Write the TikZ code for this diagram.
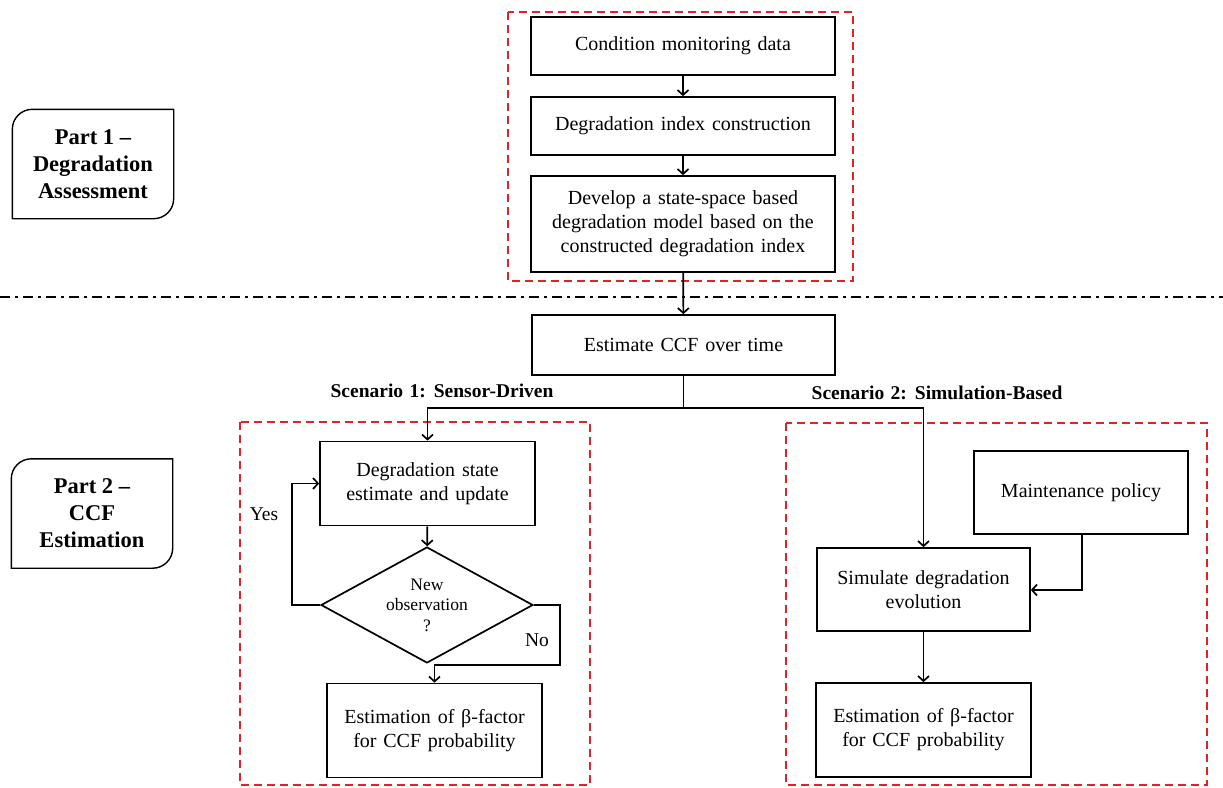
\documentclass[tikz,border=0pt]{standalone}
\usepackage{fontspec}
\setmainfont{Liberation Serif}
\usetikzlibrary{arrows.meta,shapes.geometric}
\definecolor{framered}{RGB}{226,34,38}
\newcommand\stepfont{\fontsize{20}{24}\selectfont\spaceskip=0.34em plus 0.1em\relax}
\newcommand\scenfont{\fontsize{19.5}{23}\selectfont\bfseries\spaceskip=0.33em\relax}
\begin{document}
\begin{tikzpicture}[x=1pt,y=-1pt,
  box/.style={draw, line width=1.7pt, align=center, inner sep=2pt, font=\stepfont},
  decision/.style={draw, diamond, aspect=1.83, line width=1.7pt, align=center,
    inner sep=0pt, minimum width=212pt, minimum height=116pt,
    font=\fontsize{17.5}{20.5}\selectfont},
  partlabel/.style={align=center, inner sep=0pt, minimum width=161pt, minimum height=109pt,
    font=\fontsize{22.5}{27}\selectfont\bfseries},
  partline/.style={line width=1.4pt},
  scen/.style={font=\scenfont, inner sep=0pt},
  lbl/.style={font=\fontsize{19.5}{22}\selectfont, inner sep=0pt},
  arr/.style={line width=1.7pt, -{Straight Barb[length=5pt,width=11pt]}},
  link/.style={line width=1.7pt},
  group/.style={draw=framered, line width=2pt, dash pattern=on 8pt off 5pt},
  divider/.style={line width=1.6pt, dash pattern=on 10pt off 5pt on 3pt off 5pt}
]
\useasboundingbox (0,0) rectangle (1223,787);

% phase separator
\draw[divider] (0,297) -- (1223,297);

% dashed groups
\draw[group] (508,12) rectangle (853,281);
\draw[group] (240,422) rectangle (590,785);
\draw[group] (786,423) rectangle (1207,785);

% part labels with two rounded corners
\node[partlabel] (p1) at (93,164) {Part 1 --\\Degradation\\Assessment};
\draw[partline] (p1.north east) -- ([xshift=20pt]p1.north west)
  arc[start angle=90,end angle=180,radius=20pt] -- (p1.south west)
  -- ([xshift=-20pt]p1.south east)
  arc[start angle=270,end angle=360,radius=20pt] -- cycle;
\node[partlabel] (p2) at (92,513.5) {Part 2 --\\CCF\\Estimation};
\draw[partline] (p2.north east) -- ([xshift=20pt]p2.north west)
  arc[start angle=90,end angle=180,radius=20pt] -- (p2.south west)
  -- ([xshift=-20pt]p2.south east)
  arc[start angle=270,end angle=360,radius=20pt] -- cycle;

% part 1 chain
\node[box, minimum width=304pt, minimum height=58pt] (cmd) at (683,46) {Condition monitoring data};
\node[box, minimum width=304pt, minimum height=58pt] (dic) at (683,126) {Degradation index construction};
\node[box, minimum width=304pt, minimum height=96pt] (ssm) at (683,224)
  {Develop a state-space based\\degradation model based on the\\constructed degradation index};
\node[box, minimum width=303pt, minimum height=60pt] (est) at (683.5,345) {Estimate CCF over time};

\draw[arr] (cmd) -- (dic);
\draw[arr] (dic) -- (ssm);
\draw[arr] (ssm) -- (est);

% scenario labels
\node[scen] (s1) at (442,391) {Scenario 1: Sensor-Driven};
\node[scen] (s2) at (937,393) {Scenario 2: Simulation-Based};

% scenario 1
\node[box, minimum width=215pt, minimum height=84pt] (dse) at (427.5,483.5)
  {Degradation state\\estimate and update};
\node[decision] (obs) at (427,605) {New\\observation\\?};
\node[box, minimum width=215pt, minimum height=94pt] (bf1) at (434.5,730.5)
  {Estimation of β-factor\\for CCF probability};

% scenario 2
\node[box, minimum width=214pt, minimum height=83pt] (mp) at (1081,492.5) {Maintenance policy};
\node[box, minimum width=213pt, minimum height=83pt] (sim) at (923.5,589.5)
  {Simulate degradation\\evolution};
\node[box, minimum width=215pt, minimum height=94pt] (bf2) at (923.5,730)
  {Estimation of β-factor\\for CCF probability};

% branching
\coordinate (split) at (683.5,408);
\draw[link] (est.south) -- (split);
\draw[arr] (split) -| (dse.north);
\draw[arr] (split) -| (sim.north);

% decision loop
\draw[arr] (dse) -- (obs);
\draw[arr] (obs.west) -- ++(-28,0) |- (dse.west);
\coordinate (nobend) at (560,665);
\draw[arr] (obs.east) -| (nobend) -| (bf1.north);
\node[lbl] (yes) at (264,514) {Yes};
\node[lbl] (no) at (537,640) {No};

% simulation branch
\coordinate (mpbend) at (1082,590);
\draw[arr] (mp.south -| mpbend) -- (mpbend) -- (sim.east |- mpbend);
\draw[arr] (sim) -- (bf2);
\end{tikzpicture}
\end{document}
